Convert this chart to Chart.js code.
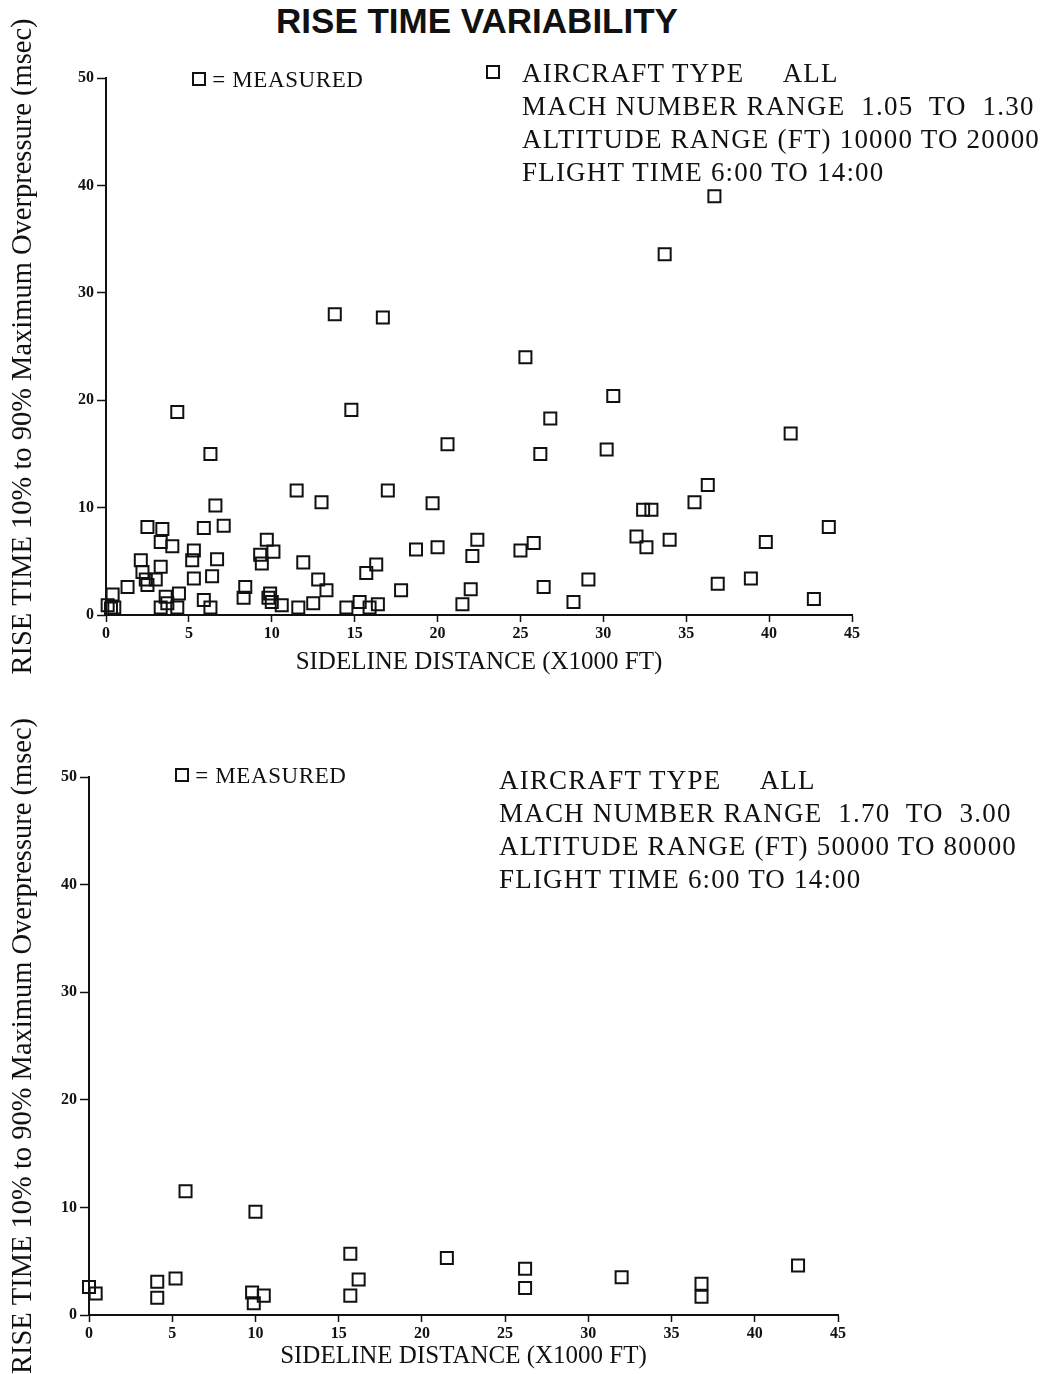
<!DOCTYPE html>
<html>
<head>
<meta charset="utf-8">
<script src="https://cdn.jsdelivr.net/npm/chart.js@4.4.0/dist/chart.umd.min.js"></script>
<style>
body{margin:0;background:#fff;width:1047px;height:1374px;position:relative;overflow:hidden;font-family:"Liberation Serif",serif;color:#111}
canvas{position:absolute;left:0}
#title{position:absolute;left:0;top:1px;width:954px;text-align:center;font:bold 35px "Liberation Sans",Arial,sans-serif}
.note{position:absolute;font-size:27px;line-height:33px;letter-spacing:1.2px;white-space:pre}
.meas{position:absolute;font-size:23px;letter-spacing:0.6px;white-space:pre}
.sq{display:inline-block;width:10px;height:10px;border:2px solid #111;vertical-align:1px}
</style>
</head>
<body>
<div id="title">RISE TIME VARIABILITY</div>

<canvas id="chartTop" width="1047" height="680" style="top:0px"></canvas>
<canvas id="chartBottom" width="1047" height="678" style="top:696px"></canvas>

<div class="meas" style="left:192px;top:67px"><span class="sq"></span> = MEASURED</div>
<div class="sq" style="position:absolute;left:486px;top:65px"></div>
<div class="note" style="left:522px;top:57px">AIRCRAFT TYPE     ALL
MACH NUMBER RANGE  1.05  TO  1.30
ALTITUDE RANGE (FT) 10000 TO 20000
FLIGHT TIME 6:00 TO 14:00</div>

<div class="meas" style="left:175px;top:763px"><span class="sq"></span> = MEASURED</div>
<div class="note" style="left:499px;top:764px">AIRCRAFT TYPE     ALL
MACH NUMBER RANGE  1.70  TO  3.00
ALTITUDE RANGE (FT) 50000 TO 80000
FLIGHT TIME 6:00 TO 14:00</div>

<script>
// sideline distance (x1000 ft) / rise time (msec), Mach 1.05-1.30
var topX = [36.7,33.7,13.8,16.7,25.3,30.6,4.3,14.8,26.8,41.3,20.6,6.3,26.2,30.2,11.5,17.0,36.3,6.6,13.0,19.7,35.5,32.4,32.9,
    2.5,3.4,5.9,7.1,3.3,4.0,9.7,10.1,9.3,9.4,11.9,5.3,5.2,6.7,2.1,2.2,2.4,2.5,3.0,3.3,5.3,6.4,1.3,0.4,0.1,0.5,0.3,
    3.3,3.6,3.7,4.4,4.3,5.9,6.3,8.4,8.3,9.9,9.8,10.0,10.6,11.6,12.5,12.8,13.3,14.5,15.3,15.9,16.4,15.7,16.3,17.8,
    18.7,20.0,22.4,22.1,22.0,21.5,25.0,25.8,26.4,28.2,32.0,32.6,34.0,43.6,39.8,29.1,36.9,38.9,42.7];
var topY = [39.0,33.6,28.0,27.7,24.0,20.4,18.9,19.1,18.3,16.9,15.9,15.0,15.0,15.4,11.6,11.6,12.1,10.2,10.5,10.4,10.5,9.8,9.8,
    8.2,8.0,8.1,8.3,6.8,6.4,7.0,5.9,5.6,4.8,4.9,6.0,5.1,5.2,5.1,4.0,3.3,2.8,3.3,4.5,3.4,3.6,2.6,1.9,0.9,0.7,0.6,
    0.7,1.7,1.1,2.0,0.7,1.4,0.7,2.6,1.6,2.0,1.6,1.2,0.9,0.7,1.1,3.3,2.3,0.7,1.2,0.7,1.0,3.9,4.7,2.3,
    6.1,6.3,7.0,5.5,2.4,1.0,6.0,6.7,2.6,1.2,7.3,6.3,7.0,8.2,6.8,3.3,2.9,3.4,1.5];

// Mach 1.70-3.00
var bottomX = [5.8,10.0,15.7,21.5,5.2,4.1,4.1,0.0,0.4,9.8,10.5,9.9,16.2,15.7,26.2,26.2,32.0,36.8,36.8,42.6];
var bottomY = [11.5,9.6,5.7,5.3,3.4,3.1,1.6,2.6,2.0,2.1,1.8,1.1,3.3,1.8,4.3,2.5,3.5,2.9,1.7,4.6];

var xTicks = [0,5,10,15,20,25,30,35,40,45];
var yTicks = [0,10,20,30,40,50];

var xTitle = "SIDELINE DISTANCE (X1000 FT)";
var yTitle = "RISE TIME 10% to 90% Maximum Overpressure (msec)";

function toPoints(xs, ys){
    var pts = [];
    for(i=0;i<xs.length;i++){
        pts.push({x:xs[i], y:ys[i]});
    }
    return pts;
}

function riseChart(id, xs, ys, yWidth, xHeight, padTop, padRight){
    var ctx = document.getElementById(id).getContext('2d');
    var tickFont = {family:'"Liberation Serif", serif', size:16, weight:'bold'};
    return new Chart(ctx, {
        type: 'scatter',
        data: {
            datasets: [{
                label: "Measured",
                data: toPoints(xs, ys),
                pointStyle: 'rect',
                pointRadius: 8.5,
                pointHoverRadius: 8.5,
                pointBorderWidth: 2,
                pointBorderColor: '#111',
                pointBackgroundColor: 'transparent',
                clip: false
            }]
        },
        options: {
            responsive: false,
            animation: false,
            layout: {padding: {top: padTop, right: padRight, left: 0, bottom: 0}},
            plugins: {legend: false, tooltip: {enabled: false}},
            scales: {
                x: {
                    type: 'linear',
                    min: 0, max: 45,
                    afterBuildTicks: function(s){ s.ticks = xTicks.map(function(v){ return {value:v}; }); },
                    afterFit: function(s){ s.height = xHeight; },
                    border: {display: true, color: '#111', width: 2},
                    grid: {drawOnChartArea: false, drawTicks: true, tickLength: 7, tickColor: '#111', tickWidth: 1.5},
                    ticks: {color: '#111', font: tickFont, padding: 2, maxRotation: 0, autoSkip: false},
                    title: {display: true, text: xTitle, color: '#111', padding: {top: 2, bottom: 3},
                        font: {family:'"Liberation Serif", serif', size: 25}}
                },
                y: {
                    type: 'linear',
                    min: 0, max: 50,
                    afterBuildTicks: function(s){ s.ticks = yTicks.map(function(v){ return {value:v}; }); },
                    afterFit: function(s){ s.width = yWidth; },
                    border: {display: true, color: '#111', width: 2},
                    grid: {drawOnChartArea: false, drawTicks: true, tickLength: 9, tickColor: '#111', tickWidth: 1.5},
                    ticks: {color: '#111', font: tickFont, padding: 3},
                    title: {display: true, text: yTitle, color: '#111', padding: {top: 6, bottom: 4},
                        font: {family:'"Liberation Serif", serif', size: 28.5}}
                }
            }
        }
    });
}

riseChart("chartTop", topX, topY, 106, 65, 78, 195);
riseChart("chartBottom", bottomX, bottomY, 89, 59, 81, 209);
</script>
</body>
</html>
